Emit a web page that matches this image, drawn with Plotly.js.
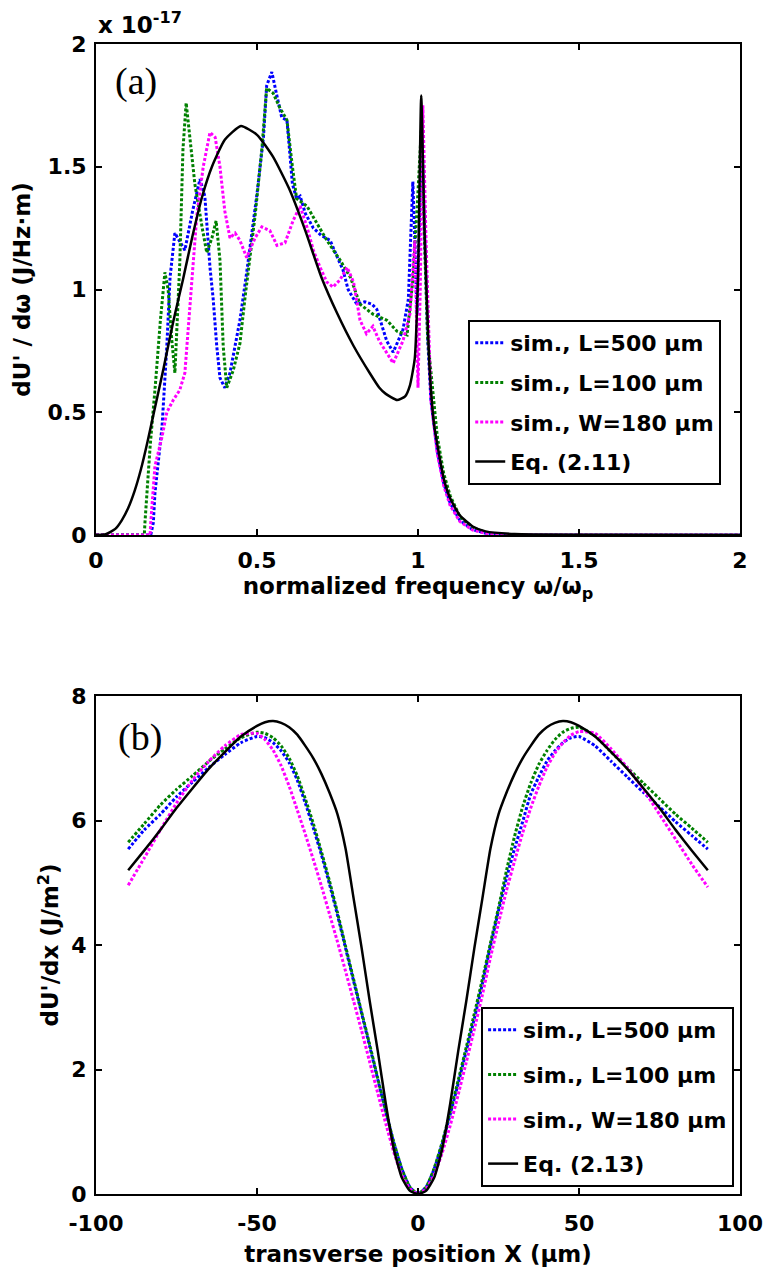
<!DOCTYPE html>
<html>
<head>
<meta charset="utf-8">
<script src="https://cdn.plot.ly/plotly-3.0.1.min.js"></script>
<style>
html,body{margin:0;padding:0;background:#fff;}
#chart{width:770px;height:1277px;}
</style>
</head>
<body>
<div id="chart"></div>
<script>
// ---------- Panel (a): spectral energy density (units of 1e-17 J/(Hz·m)) ----------
const blackA_x = [0,0.03,0.06,0.08,0.1,0.12,0.14,0.16,0.18,0.21,0.24,0.27,0.3,0.33,0.36,0.4,0.45,0.5,0.55,0.6,0.65,0.7,0.75,0.8,0.85,0.88,0.9,0.935,0.96,0.975,0.99,1.0,1.01,1.02,1.035,1.05,1.08,1.1,1.13,1.17,1.21,1.3,1.5,2.0];
const blackA_y = [0,0.003,0.025,0.06,0.11,0.18,0.27,0.38,0.5,0.68,0.87,1.04,1.22,1.38,1.5,1.61,1.666,1.63,1.54,1.41,1.24,1.05,0.9,0.77,0.66,0.6,0.575,0.55,0.565,0.61,0.72,1.05,1.79,1.25,0.7,0.45,0.23,0.15,0.08,0.035,0.015,0.004,0.001,0];

const blueA_x = [0,0.17,0.178,0.183,0.205,0.22,0.23,0.245,0.276,0.30,0.323,0.338,0.354,0.364,0.375,0.385,0.40,0.416,0.447,0.468,0.5,0.52,0.53,0.546,0.56,0.577,0.593,0.61,0.623,0.634,0.65,0.675,0.70,0.727,0.75,0.767,0.783,0.81,0.835,0.857,0.872,0.903,0.923,0.953,0.97,0.984,0.99,0.997,1.005,1.012,1.02,1.03,1.04,1.06,1.08,1.1,1.13,1.17,1.22,1.26,2.0];
const blueA_y = [0,0,0.05,0.17,0.44,0.77,1.05,1.23,1.16,1.32,1.45,1.38,1.09,0.96,0.77,0.64,0.60,0.66,0.875,1.07,1.39,1.62,1.83,1.886,1.80,1.70,1.69,1.43,1.37,1.38,1.31,1.25,1.22,1.20,1.13,1.08,1.0,0.94,0.95,0.94,0.92,0.79,0.745,0.835,0.96,1.44,1.2,0.9,1.3,1.65,1.25,0.8,0.55,0.34,0.21,0.13,0.06,0.022,0.004,0,0];

const greenA_x = [0,0.15,0.152,0.168,0.183,0.2,0.214,0.224,0.235,0.245,0.26,0.27,0.28,0.29,0.307,0.33,0.344,0.36,0.373,0.385,0.395,0.406,0.426,0.447,0.463,0.494,0.515,0.53,0.55,0.571,0.593,0.61,0.623,0.655,0.686,0.717,0.758,0.79,0.82,0.86,0.903,0.935,0.966,0.985,1.0,1.01,1.02,1.03,1.045,1.06,1.08,1.1,1.13,1.17,1.22,1.27,2.0];
const greenA_y = [0,0,0.05,0.36,0.59,0.875,1.07,1.0,0.8,0.66,1.1,1.57,1.76,1.64,1.43,1.25,1.15,1.21,1.28,1.12,0.77,0.60,0.67,0.78,0.97,1.30,1.57,1.82,1.80,1.74,1.69,1.50,1.37,1.34,1.27,1.20,1.12,1.05,0.94,0.90,0.875,0.83,0.815,1.05,1.4,1.65,1.2,0.8,0.6,0.4,0.25,0.16,0.075,0.03,0.006,0,0];

const magA_x = [0,0.168,0.17,0.183,0.205,0.22,0.24,0.26,0.276,0.286,0.297,0.313,0.333,0.354,0.37,0.385,0.40,0.416,0.432,0.447,0.468,0.494,0.515,0.54,0.562,0.587,0.612,0.634,0.655,0.675,0.696,0.717,0.736,0.758,0.78,0.80,0.82,0.84,0.86,0.88,0.923,0.953,0.975,0.99,1.0,1.007,1.015,1.025,1.04,1.06,1.08,1.1,1.13,1.17,1.22,1.26,2.0];
const magA_y = [0,0,0.05,0.28,0.40,0.50,0.55,0.59,0.66,0.83,1.05,1.30,1.50,1.64,1.62,1.50,1.32,1.21,1.23,1.20,1.13,1.21,1.255,1.24,1.18,1.19,1.28,1.34,1.255,1.16,1.09,1.03,1.01,1.04,1.09,1.03,0.875,0.82,0.85,0.79,0.70,0.79,0.90,1.2,0.6,1.0,1.75,1.2,0.55,0.33,0.2,0.12,0.055,0.02,0.004,0,0];

// ---------- Panel (b): transverse energy density (J/m^2) ----------
const posB = [-90,-85,-80,-75,-70,-65,-60,-55,-50,-47.5,-45,-42.5,-40,-37.5,-35,-32.5,-30,-27.5,-25,-22.5,-20,-17.5,-15,-12.5,-10,-7.5,-5,-2.5,0,
              2.5,5,7.5,10,12.5,15,17.5,20,22.5,25,27.5,30,32.5,35,37.5,40,42.5,45,47.5,50,55,60,65,70,75,80,85,90];
const blackB = [5.2,5.52,5.85,6.2,6.52,6.83,7.1,7.35,7.52,7.58,7.6,7.57,7.5,7.38,7.2,7.0,6.75,6.45,6.1,5.55,4.75,3.95,3.1,2.3,1.45,0.72,0.26,0.05,0,
                0.05,0.26,0.72,1.45,2.3,3.1,3.95,4.75,5.55,6.1,6.45,6.75,7.0,7.2,7.38,7.5,7.57,7.6,7.58,7.52,7.35,7.1,6.83,6.52,6.2,5.85,5.52,5.2];
const blueB  = [5.54,5.85,6.1,6.38,6.62,6.85,7.06,7.25,7.35,7.33,7.25,7.12,6.93,6.65,6.28,5.88,5.45,4.98,4.48,3.95,3.42,2.9,2.37,1.84,1.32,0.82,0.4,0.11,0,
                0.11,0.4,0.8,1.28,1.78,2.3,2.82,3.38,3.98,4.55,5.08,5.55,5.98,6.42,6.7,6.95,7.12,7.25,7.33,7.35,7.2,6.95,6.7,6.45,6.22,5.98,5.76,5.54];
const greenB = [5.65,5.95,6.25,6.5,6.72,6.95,7.15,7.33,7.42,7.4,7.33,7.2,7.0,6.72,6.35,5.95,5.5,5.03,4.52,3.98,3.45,2.92,2.4,1.86,1.33,0.83,0.4,0.11,0,
                0.11,0.41,0.83,1.32,1.83,2.36,2.9,3.45,4.03,4.6,5.2,5.75,6.22,6.6,6.9,7.12,7.3,7.42,7.48,7.5,7.36,7.1,6.85,6.6,6.35,6.1,5.88,5.65];
const magB   = [4.96,5.4,5.85,6.28,6.65,6.95,7.2,7.38,7.4,7.3,7.13,6.88,6.55,6.17,5.78,5.37,4.95,4.5,4.05,3.58,3.1,2.62,2.12,1.62,1.13,0.67,0.3,0.08,0,
                0.08,0.3,0.66,1.1,1.6,2.12,2.65,3.2,3.8,4.35,4.88,5.35,5.8,6.2,6.55,6.85,7.08,7.25,7.37,7.43,7.4,7.15,6.85,6.5,6.1,5.7,5.3,4.93];

const namesA = ['sim., L=500 μm','sim., L=100 μm','sim., W=180 μm','Eq. (2.11)'];
const namesB = ['sim., L=500 μm','sim., L=100 μm','sim., W=180 μm','Eq. (2.13)'];
const colors = ['#0000ff','#008000','#ff00ff','#000000'];
const ticksA = [0,0.5,1,1.5,2];
const ticksAy = [0,0.5,1,1.5,2];
const ticksBx = [-100,-50,0,50,100];
const ticksBy = [0,2,4,6,8];

const FAM = 'DejaVu Sans, Verdana, sans-serif';
const dotDash = '3px,2px';
const b = s => '<b>' + s + '</b>';
function sim(x,y,name,color,xa,ya,leg,grp,sm){
  return {x:x,y:y,name:b(name),type:'scatter',mode:'lines',xaxis:xa,yaxis:ya,legend:leg,legendgroup:grp,
          line:{color:color,width:3,dash:dotDash,shape:sm?'spline':'linear',smoothing:0.5}};
}
const traces = [
  sim(blueA_x,blueA_y,namesA[0],colors[0],'x','y','legend','a1',false),
  sim(greenA_x,greenA_y,namesA[1],colors[1],'x','y','legend','a2',false),
  sim(magA_x,magA_y,namesA[2],colors[2],'x','y','legend','a3',false),
  {x:blackA_x,y:blackA_y,name:b(namesA[3]),type:'scatter',mode:'lines',xaxis:'x',yaxis:'y',legend:'legend',legendgroup:'a4',
   line:{color:'#000',width:2.5,shape:'spline',smoothing:0.5}},
  sim(posB,blueB,namesB[0],colors[0],'x2','y2','legend2','b1',true),
  sim(posB,greenB,namesB[1],colors[1],'x2','y2','legend2','b2',true),
  sim(posB,magB,namesB[2],colors[2],'x2','y2','legend2','b3',true),
  {x:posB,y:blackB,name:b(namesB[3]),type:'scatter',mode:'lines',xaxis:'x2',yaxis:'y2',legend:'legend2',legendgroup:'b4',
   line:{color:'#000',width:2.5,shape:'spline',smoothing:0.5}}
];

const tickFont = {family:FAM,size:22,color:'#000',weight:'bold'};
const titleFont = {family:FAM,size:23,color:'#000',weight:'bold'};
const axBase = {showline:true,linecolor:'#000',linewidth:2,mirror:'ticks',ticks:'inside',ticklen:6,tickwidth:2,tickcolor:'#000',
                showgrid:false,zeroline:false,tickfont:tickFont,tickmode:'array'};
const legFont = {family:FAM,size:22,color:'#000',weight:'bold'};
const fmt = v => b(String(v));

const layout = {
  width:770,height:1277,
  paper_bgcolor:'#fff',plot_bgcolor:'#fff',
  margin:{l:96,r:30,t:44,b:83},
  showlegend:true,
  xaxis:Object.assign({},axBase,{domain:[0,1],range:[0,2],tickvals:ticksA,ticktext:ticksA.map(fmt),anchor:'y',ticklabelstandoff:5,
        title:{text:b('normalized frequency ω/ω<sub>p</sub>'),font:titleFont,standoff:2}}),
  yaxis:Object.assign({},axBase,{domain:[0.573,1],range:[0,2],tickvals:ticksAy,ticktext:ticksAy.map(fmt),anchor:'x',ticklabelstandoff:3,
        title:{text:b("dU' / dω (J/Hz·m)"),font:titleFont,standoff:11}}),
  xaxis2:Object.assign({},axBase,{domain:[0,1],range:[-100,100],tickvals:ticksBx,ticktext:ticksBx.map(fmt),anchor:'y2',ticklabelstandoff:9,
        title:{text:b('transverse position X (μm)'),font:titleFont,standoff:10}}),
  yaxis2:Object.assign({},axBase,{domain:[0,0.433],range:[0,8],tickvals:ticksBy,ticktext:ticksBy.map(fmt),anchor:'x2',ticklabelstandoff:3,
        title:{text:b("dU'/dx (J/m<sup>2</sup>)"),font:titleFont,standoff:6}}),
  legend:{x:0.578,y:0.76,xanchor:'left',yanchor:'top',bgcolor:'#fff',bordercolor:'#000',borderwidth:2,
          font:legFont,tracegroupgap:8,traceorder:'grouped'},
  legend2:{x:0.598,y:0.1626,xanchor:'left',yanchor:'top',bgcolor:'#fff',bordercolor:'#000',borderwidth:2,
          font:legFont,tracegroupgap:13,traceorder:'grouped'},
  annotations:[
    {xref:'paper',yref:'paper',x:0,y:1,xanchor:'left',yanchor:'bottom',yshift:4,showarrow:false,
     text:b('x 10<sup>-17</sup>'),font:{family:FAM,size:23,color:'#000',weight:'bold'}},
    {xref:'paper',yref:'paper',x:0.026,y:0.967,xanchor:'left',yanchor:'middle',showarrow:false,
     text:'(a)',font:{family:'Liberation Serif, Times New Roman, serif',size:38,color:'#000'}},
    {xref:'paper',yref:'paper',x:0.031,y:0.397,xanchor:'left',yanchor:'middle',showarrow:false,
     text:'(b)',font:{family:'Liberation Serif, Times New Roman, serif',size:38,color:'#000'}}
  ]
};

Plotly.newPlot('chart',traces,layout,{displayModeBar:false,staticPlot:true});
</script>
</body>
</html>
